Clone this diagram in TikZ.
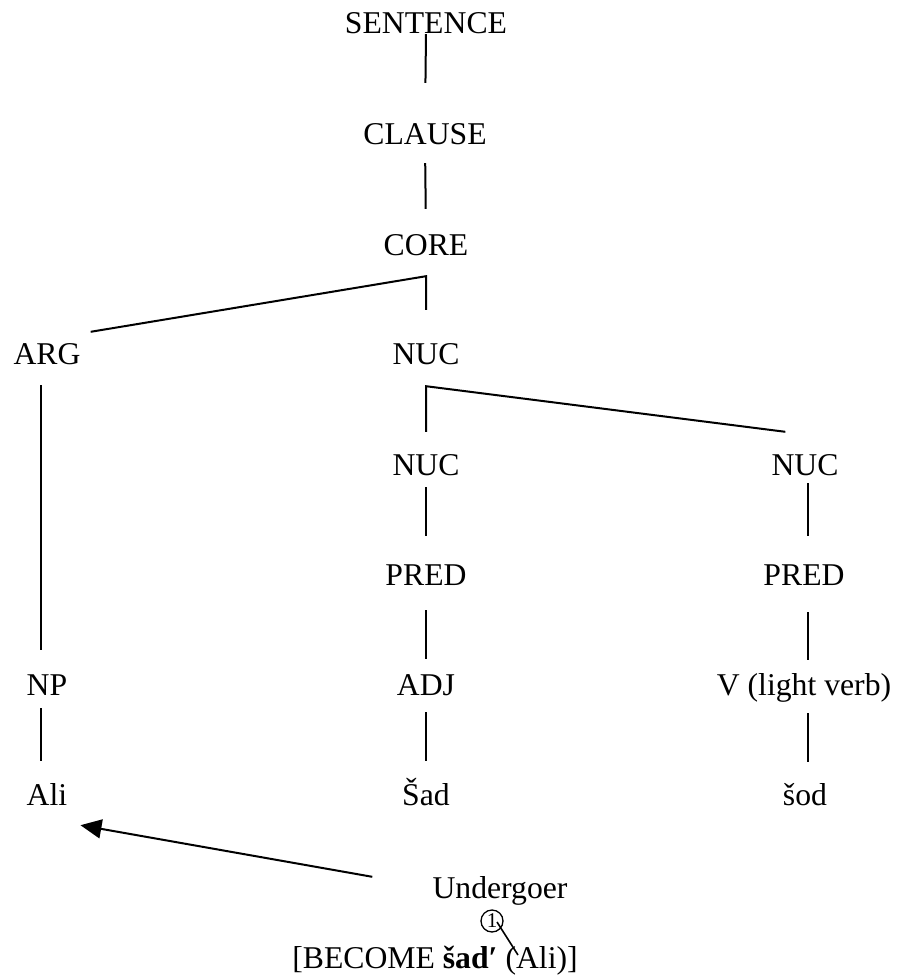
\documentclass[tikz,border=0pt]{standalone}
\usepackage{fontspec}
\setmainfont{Liberation Serif}
\usepackage{tikz}
\usetikzlibrary{positioning}
\usetikzlibrary{arrows.meta}
\usetikzlibrary{calc}

\begin{document}
\begin{tikzpicture}[x=1pt, y=-1pt, >={Triangle[length=21pt,width=19pt]},
cat/.style={anchor=base, inner sep=0pt, text height=21pt, text depth=0pt},
branch/.style={line width=2pt},
circ/.style={circle, draw, line width=1.3pt, inner sep=0pt, minimum size=22pt, font=\fontsize{21}{21}\selectfont}]
\useasboundingbox (0,0) rectangle (898,977);
\fontsize{31.7}{38}\selectfont

% nodes
\node [cat] (sentence) at (426,33) {SENTENCE};
\node [cat] (clause) at (425,144) {CLAUSE};
\node [cat] (core) at (426,255) {CORE};
\node [cat] (arg) at (47,364) {ARG};
\node [cat] (nuc) at (426,364) {NUC};
\node [cat] (nucadj) at (426,475) {NUC};
\node [cat] (nucv) at (805,475) {NUC};
\node [cat] (predadj) at (426,585) {PRED};
\node [cat] (predv) at (804,585) {PRED};
\node [cat] (np) at (47,695) {NP};
\node [cat] (adj) at (426,695) {ADJ};
\node [cat] (v) at (804,695) {V (light verb)};
\node [cat] (ali) at (47,805) {Ali};
\node [cat] (sad) at (426,805) {Šad};
\node [cat] (sod) at (805,805) {šod};
\node [cat] (undergoer) at (500,898) {Undergoer};
\node [cat] (lsc) at (435,968) {[BECOME \textbf{šad′} (Ali)]};
\node [circ] (one) at (492,921) {1};
\coordinate (lscarg) at (518,955);

% spine
\draw [branch, shorten <=1pt, shorten >=40pt] (sentence.south) -- (clause.north);
\draw [branch, shorten <=19pt, shorten >=25pt] (clause.south) -- (core.north);

% core fork
\draw [branch] ([shift={(10pt,11pt)}]arg.north east) -- ([yshift=-21pt]core.south) -- ([yshift=33pt]nuc.north);
% nuc fork
\draw [branch] ([yshift=22pt]nucadj.north) -- ([yshift=-22pt]nuc.south) -- ([shift={(14pt,22pt)}]nucv.north west);

% arg column
\draw [branch, shorten <=21pt, shorten >=24pt] ([xshift=-6pt]arg.south) -- ([xshift=-6pt]np.north);
\draw [branch, shorten <=13pt, shorten >=23pt] ([xshift=-6pt]np.south) -- ([xshift=-6pt]ali.north);

% adj column
\draw [branch, shorten <=12pt, shorten >=28pt] (nucadj.south) -- (predadj.north);
\draw [branch, shorten <=25pt, shorten >=15pt] (predadj.south) -- (adj.north);
\draw [branch, shorten <=17pt, shorten >=23pt] (adj.south) -- (sad.north);

% verb column
\draw [branch, shorten <=8pt, shorten >=28pt] ([xshift=3pt]nucv.south) -- ([xshift=4pt]predv.north);
\draw [branch, shorten <=27pt, shorten >=14pt] ([xshift=4pt]predv.south) -- ([xshift=4pt]v.north);
\draw [branch, shorten <=18pt, shorten >=22pt] ([xshift=4pt]v.south) -- ([xshift=3pt]sod.north);

% linking
\draw [branch, ->] ([xshift=-60pt]undergoer.north west) -- ([shift={(13pt,-20pt)}]ali.south east);
\draw [line width=1.6pt] ([shift={(5pt,-1pt)}]one.center) -- (lscarg);
\end{tikzpicture}
\end{document}
